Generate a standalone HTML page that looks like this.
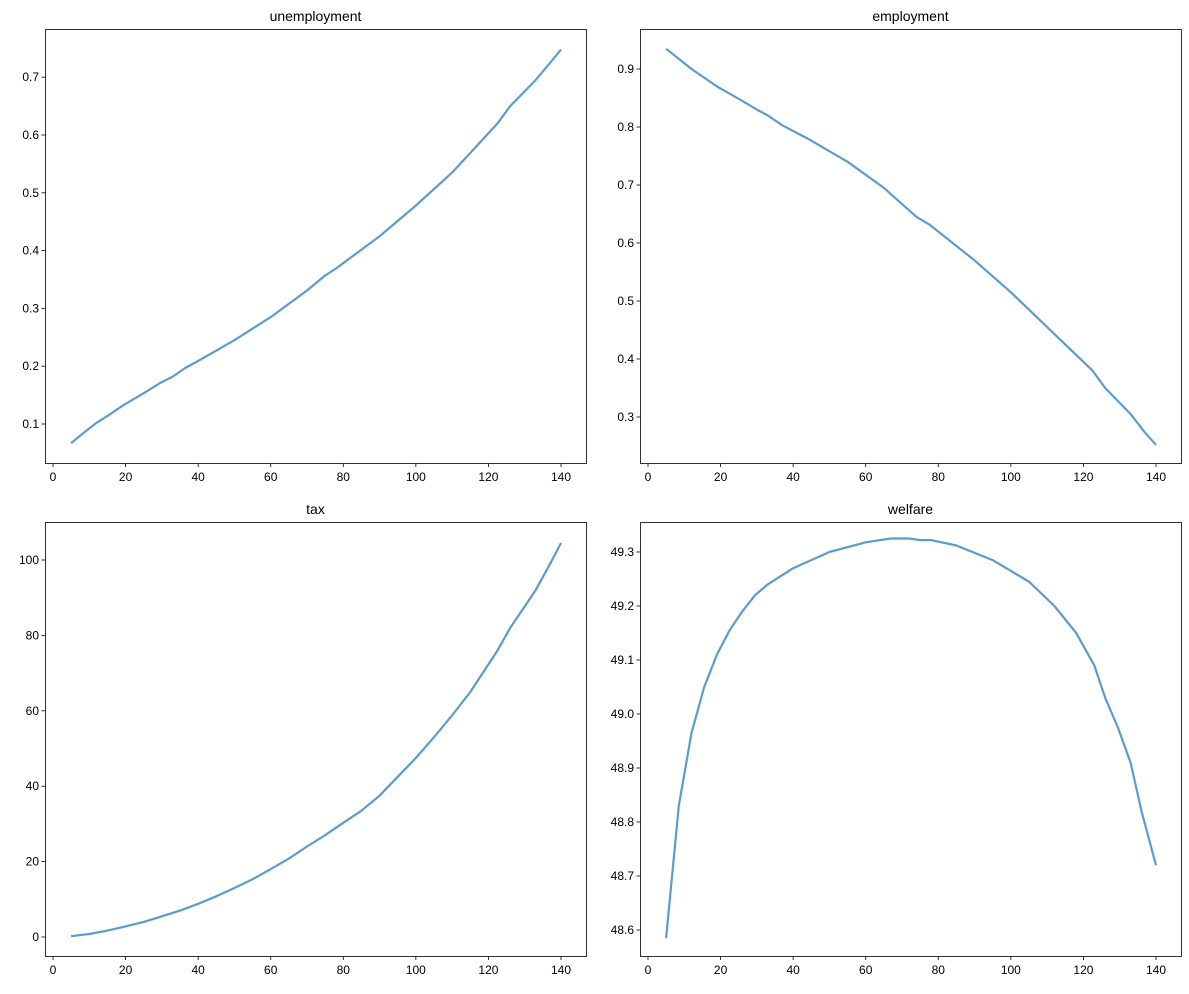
<!DOCTYPE html>
<html><head><meta charset="utf-8"><style>
body{margin:0;background:#fff;}
svg text{font-family:"Liberation Sans","DejaVu Sans",sans-serif;fill:#000;}
</style></head><body>
<svg id="s" width="1189" height="989" xmlns="http://www.w3.org/2000/svg">
<text x="315.5" y="21" font-size="14" text-anchor="middle">unemployment</text>
<text x="910.5" y="21" font-size="14" text-anchor="middle">employment</text>
<text x="315.5" y="514" font-size="14" text-anchor="middle">tax</text>
<text x="910.5" y="514" font-size="14" text-anchor="middle">welfare</text>
</svg>
<script>
var S=document.getElementById('s'),NS="http://www.w3.org/2000/svg";
function el(t,a){var e=document.createElementNS(NS,t);for(var k in a)e.setAttribute(k,a[k]);S.appendChild(e);return e;}
function panel(x0,y0,x1,y1,xz,yf,yt,fmt,data){
 var xm=function(v){return xz+v*508/140;};
 el('rect',{x:x0+.5,y:y0+.5,width:x1-x0,height:y1-y0,fill:'none',stroke:'#000','stroke-width':0.8});
 for(var v=0;v<=140;v+=20){var px=xm(v);el('line',{x1:px,y1:y1+.5,x2:px,y2:y1+4,stroke:'#000','stroke-width':0.8});
  var t=el('text',{x:px,y:y1+18,'font-size':12,'text-anchor':'middle'});t.textContent=v;}
 yt.forEach(function(v){var py=yf(v);el('line',{x1:x0+.5,y1:py,x2:x0-3.5,y2:py,stroke:'#000','stroke-width':0.8});
  var t=el('text',{x:x0-6,y:py+4,'font-size':12,'text-anchor':'end'});t.textContent=fmt(v);});
 var p=data.map(function(d){return xm(d[0]).toFixed(1)+','+yf(d[1]).toFixed(1);}).join(' ');
 el('polyline',{points:p,fill:'none',stroke:'rgb(91,156,204)','stroke-width':2.2,'stroke-linejoin':'round'});
}
panel(45,29,586,463,53,function(v){return 424-(v-0.1)*578;},[.1,.2,.3,.4,.5,.6,.7],function(v){return v.toFixed(1);},
[[5,.067],[8.5,.085],[12,.102],[15.5,.116],[19,.131],[22.5,.144],[26,.157],[29.5,.171],[33,.182],[36.5,.197],[40,.209],[50,.245],[60,.285],[70,.331],[75,.357],[78,.369],[90,.425],[100,.478],[110,.535],[122.5,.62],[126,.65],[133,.695],[137,.725],[140,.748]]);
panel(640,29,1181,463,648,function(v){return 69+(0.9-v)*580;},[.3,.4,.5,.6,.7,.8,.9],function(v){return v.toFixed(1);},
[[5,.935],[12,.90],[19,.87],[26,.845],[30,.83],[33,.82],[37,.803],[44,.78],[55,.74],[65,.695],[74,.645],[77.5,.632],[90,.57],[100,.515],[110,.455],[122.5,.38],[126,.35],[133,.305],[137,.273],[140,.252]]);
panel(45,522,586,956,53,function(v){return 937-v*3.77;},[0,20,40,60,80,100],function(v){return v;},
[[5,.2],[10,.8],[15,1.7],[20,2.8],[25,4],[30,5.5],[35,7],[40,8.8],[45,10.8],[50,13],[55,15.3],[60,18],[65,20.8],[70,24],[75,27],[78,29],[85,33.5],[90,37.5],[95,42.5],[100,47.5],[105,53],[110,58.8],[115,65],[122.5,76],[126,82],[133,92],[137,99],[140,104.5]]);
panel(640,522,1181,956,648,function(v){return 552+(49.3-v)*540;},[48.6,48.7,48.8,48.9,49.0,49.1,49.2,49.3],function(v){return v.toFixed(1);},
[[5,48.585],[8.5,48.83],[12,48.965],[15.5,49.05],[19,49.11],[22.5,49.155],[26,49.19],[29.5,49.22],[33,49.24],[40,49.27],[50,49.30],[60,49.318],[67,49.325],[72,49.325],[75,49.322],[78,49.322],[85,49.312],[95,49.285],[105,49.245],[112,49.20],[118,49.15],[123,49.09],[126,49.03],[129.5,48.975],[133,48.91],[136,48.82],[140,48.72]]);
</script>
</body></html>
